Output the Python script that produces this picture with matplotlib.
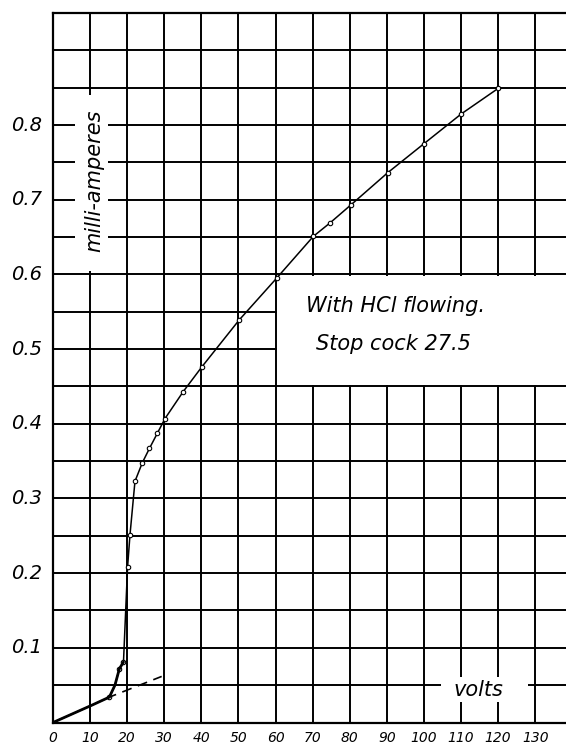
import matplotlib
matplotlib.use("Agg")
import matplotlib.pyplot as plt
from matplotlib.patches import Rectangle
import numpy as np

# ---- data ----
volts = [0, 10.4, 15.2, 16.7, 17.9, 19.0, 20.1, 20.75, 22.1, 24.1, 26.0, 28.1,
         30.2, 35.1, 40.1, 50.2, 60.3, 70.2, 74.7, 80.3, 90.2, 100.0, 110.1, 120.0]
milliamps = [0, 0.023, 0.034, 0.050, 0.072, 0.081, 0.208, 0.251, 0.323, 0.348,
             0.367, 0.387, 0.407, 0.443, 0.476, 0.539, 0.595, 0.651, 0.669, 0.693,
             0.736, 0.775, 0.815, 0.849]
marked = [2, 4, 5, 6, 7, 8, 9, 10, 11, 12, 13, 14, 15, 16, 17, 18, 19, 20, 21, 22, 23]
n_initial = 6  # bold hand-drawn initial part (0 .. 19 V)

dash_volts = [14.5, 29.3]
dash_ma = [0.0326, 0.0617]

x_ticks = list(range(0, 140, 10))
x_labels = [str(v) for v in x_ticks]
y_ticks = [0.1, 0.2, 0.3, 0.4, 0.5, 0.6, 0.7, 0.8]
y_labels = ["0.1", "0.2", "0.3", "0.4", "0.5", "0.6", "0.7", "0.8"]

note_line1 = "With HCl flowing."
note_line2 = "Stop cock 27.5"
y_title = "milli-amperes"
x_title = "volts"

# ---- figure ----
fig = plt.figure(figsize=(5.66, 7.48), dpi=100)
ax = fig.add_axes([53 / 566, 25.5 / 748, 1 - 53 / 566, 709.5 / 748])
ax.set_xlim(0, 138.3)
ax.set_ylim(0, 0.95)

ax.set_xticks(np.arange(0, 139, 10))
ax.set_yticks(np.arange(0, 0.951, 0.05))
ax.grid(True, color="black", linewidth=1.4)
ax.set_axisbelow(True)
ax.tick_params(length=0)
ax.set_xticklabels([])
ax.set_yticklabels([])

for s in ["left", "bottom", "top"]:
    ax.spines[s].set_linewidth(1.6)
ax.spines["right"].set_visible(False)

# tick labels as text
for v, lab in zip(x_ticks, x_labels):
    ax.text(v, -0.012, lab, ha="center", va="top", fontsize=10,
            fontstyle="italic", transform=ax.transData, clip_on=False)
for v, lab in zip(y_ticks, y_labels):
    ax.text(-3.0, v, lab, ha="right", va="center", fontsize=14,
            fontstyle="italic", clip_on=False)

# white gaps in the grid for the lettering
ax.add_patch(Rectangle((60.3, 0.4515), 80, 0.147, facecolor="white",
                       edgecolor="none", zorder=1))
ax.add_patch(Rectangle((5.9, 0.605), 8.9, 0.235, facecolor="white",
                       edgecolor="none", zorder=1))
ax.add_patch(Rectangle((104.7, 0.028), 23.3, 0.033, facecolor="white",
                       edgecolor="none", zorder=1))

# curve
ax.plot(volts, milliamps, color="black", linewidth=1.1, zorder=3,
        marker="o", markersize=3.2, markerfacecolor="white",
        markeredgecolor="black", markeredgewidth=0.8, markevery=marked)
ax.plot(volts[:n_initial], milliamps[:n_initial], color="black",
        linewidth=2.0, zorder=3, solid_capstyle="round")
ax.plot(dash_volts, dash_ma, color="black", linewidth=1.2,
        linestyle=(0, (6, 4)), zorder=3)

# lettering
ax.text(68.2, 0.5495, note_line1, fontsize=15, fontstyle="italic",
        ha="left", va="baseline", zorder=4)
ax.text(71.0, 0.4987, note_line2, fontsize=15, fontstyle="italic",
        ha="left", va="baseline", zorder=4)
ax.text(11.0, 0.725, y_title, fontsize=15, fontstyle="italic", rotation=90,
        ha="center", va="center", zorder=4)
ax.text(114.8, 0.044, x_title, fontsize=15, fontstyle="italic",
        ha="center", va="center", zorder=4)

fig.savefig("out.png", dpi=100)
